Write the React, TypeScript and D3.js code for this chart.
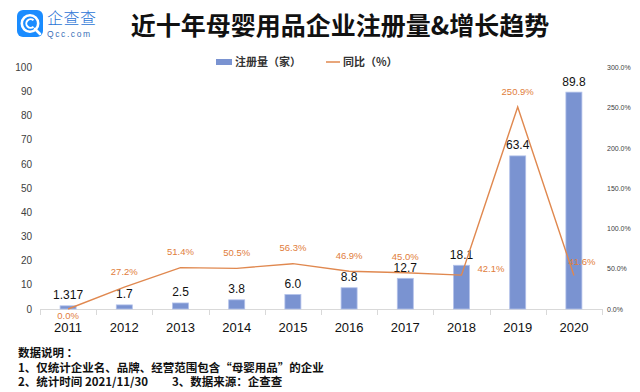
import * as d3 from 'd3'
import { useEffect, useRef } from 'react'

const years = ['2011', '2012', '2013', '2014', '2015', '2016', '2017', '2018', '2019', '2020']
const regCount = [1.317, 1.7, 2.5, 3.8, 6.0, 8.8, 12.7, 18.1, 63.4, 89.8]
const regLabels = ['1.317', '1.7', '2.5', '3.8', '6.0', '8.8', '12.7', '18.1', '63.4', '89.8']
const yoyRate = [0.0, 27.2, 51.4, 50.5, 56.3, 46.9, 45.0, 42.1, 250.9, 41.6]
const yoyPlace = ['below', 'above', 'above', 'above', 'above', 'above', 'above', 'right', 'above', 'aboveRight']
const leftTicks = [0, 10, 20, 30, 40, 50, 60, 70, 80, 90, 100]
const rightTicks = [0, 50, 100, 150, 200, 250, 300]
const notes = [
  '数据说明 ：',
  '1、仅统计企业名、品牌、经营范围包含“母婴用品”的企业',
  '2、统计时间 2021/11/30',
  '3、数据来源：企查查'
]

const W = 640
const H = 392
const CJK = '"Noto Sans CJK SC", sans-serif'
const NUM = '"Liberation Sans", Arial, sans-serif'
const BAR = '#7a93d1'
const LINE = '#e0884f'
const LABEL = '#df7d3b'

const App = () => {
  const ref = useRef<SVGSVGElement>(null)

  useEffect(() => {
    if (!ref.current) return
    const svg = d3.select(ref.current)
    svg.selectAll('*').remove()

    const plotLeft = 40
    const plotRight = 602
    const plotTop = 67.5
    const plotBottom = 309

    const x = d3.scaleBand().domain(years).range([plotLeft, plotRight]).padding(0)
    const yLeft = d3.scaleLinear().domain([0, 100]).range([plotBottom, plotTop])
    const yRight = d3.scaleLinear().domain([0, 300]).range([plotBottom, plotTop])
    const barW = x.bandwidth() * 0.285
    const cx = (d: string) => (x(d) || 0) + x.bandwidth() / 2

    // logo
    const logo = svg.append('g')
    logo.append('rect')
      .attr('x', 17).attr('y', 10).attr('width', 26).attr('height', 27)
      .attr('rx', 6).attr('fill', '#1a8cff')
    logo.append('circle')
      .attr('cx', 30).attr('cy', 23.5).attr('r', 8.2)
      .attr('fill', 'none').attr('stroke', '#fff').attr('stroke-width', 2.6)
    logo.append('path')
      .attr('d', 'M33.5,20.3 A4.3,4.3 0 1 0 33.5,26.7')
      .attr('fill', 'none').attr('stroke', '#fff').attr('stroke-width', 2)
    logo.append('path')
      .attr('d', 'M35,29 L40,34')
      .attr('stroke', '#fff').attr('stroke-width', 2.6).attr('stroke-linecap', 'round')
    logo.append('text')
      .attr('x', 47).attr('y', 23.5)
      .style('font-family', CJK).style('font-size', '16px').style('font-weight', 300)
      .style('letter-spacing', '0.5px')
      .attr('fill', '#2b74d6').text('企查查')
    logo.append('text')
      .attr('x', 47).attr('y', 37)
      .style('font-family', NUM).style('font-size', '8.5px')
      .style('letter-spacing', '1.6px')
      .attr('fill', '#3a6fb8').text('Qcc.com')

    // title
    svg.append('text')
      .attr('x', 340).attr('y', 35)
      .attr('text-anchor', 'middle')
      .style('font-family', CJK).style('font-size', '25px').style('font-weight', 'bold')
      .attr('fill', '#111').text('近十年母婴用品企业注册量&增长趋势')

    // legend
    const legend = svg.append('g')
    legend.append('rect')
      .attr('x', 216).attr('y', 59).attr('width', 16).attr('height', 6).attr('fill', BAR)
    legend.append('text')
      .attr('x', 235).attr('y', 66)
      .style('font-family', CJK).style('font-size', '11px').style('font-weight', 'bold')
      .attr('fill', '#333').text('注册量（家）')
    legend.append('line')
      .attr('x1', 326).attr('x2', 340).attr('y1', 62).attr('y2', 62)
      .attr('stroke', LINE).attr('stroke-width', 1.5)
    legend.append('text')
      .attr('x', 343).attr('y', 66)
      .style('font-family', CJK).style('font-size', '11px').style('font-weight', 'bold')
      .attr('fill', '#333').text('同比（%）')

    // left axis labels
    svg.append('g').selectAll('text')
      .data(leftTicks).enter().append('text')
      .attr('x', 32).attr('y', d => yLeft(d) + 3.5)
      .attr('text-anchor', 'end')
      .style('font-family', NUM).style('font-size', '10px')
      .attr('fill', '#404040').text(d => d)

    // right axis labels
    svg.append('g').selectAll('text')
      .data(rightTicks).enter().append('text')
      .attr('x', 607).attr('y', d => yRight(d) + 2.5)
      .style('font-family', NUM).style('font-size', '7px')
      .attr('fill', '#404040').text(d => `${d.toFixed(1)}%`)

    // x axis
    const xAxis = svg.append('g')
    xAxis.append('line')
      .attr('x1', plotLeft).attr('x2', plotRight)
      .attr('y1', plotBottom + 0.5).attr('y2', plotBottom + 0.5)
      .attr('stroke', '#d9d9d9')
    xAxis.selectAll('.tick')
      .data([...years.map(d => x(d) || 0), plotRight]).enter().append('line')
      .attr('x1', d => Math.round(d) + 0.5).attr('x2', d => Math.round(d) + 0.5)
      .attr('y1', plotBottom).attr('y2', plotBottom + 6)
      .attr('stroke', '#d9d9d9')
    xAxis.selectAll('text')
      .data(years).enter().append('text')
      .attr('x', d => cx(d)).attr('y', 332)
      .attr('text-anchor', 'middle')
      .style('font-family', NUM).style('font-size', '13px')
      .attr('fill', '#111').text(d => d)

    // bars
    svg.append('g').selectAll('rect')
      .data(regCount).enter().append('rect')
      .attr('x', (d, i) => cx(years[i]) - barW / 2)
      .attr('y', d => yLeft(d))
      .attr('width', barW)
      .attr('height', d => plotBottom - yLeft(d))
      .attr('fill', BAR)
      .attr('stroke', '#b3c2ea').attr('stroke-width', 0.8)

    svg.append('g').selectAll('text')
      .data(regCount).enter().append('text')
      .attr('x', (d, i) => cx(years[i]))
      .attr('y', d => yLeft(d) - 6.5)
      .attr('text-anchor', 'middle')
      .style('font-family', NUM).style('font-size', '12px')
      .attr('fill', '#111').text((d, i) => regLabels[i])

    // yoy line
    const line = d3.line<number>()
      .x((d, i) => cx(years[i]))
      .y(d => yRight(d))
    svg.append('path')
      .datum(yoyRate)
      .attr('fill', 'none')
      .attr('stroke', LINE)
      .attr('stroke-width', 1.4)
      .attr('d', line)

    svg.append('g').selectAll('text')
      .data(yoyRate).enter().append('text')
      .attr('x', (d, i) => {
        const p = yoyPlace[i]
        if (p === 'right') return cx(years[i]) + 16
        if (p === 'aboveRight') return cx(years[i]) + 8
        return cx(years[i])
      })
      .attr('y', (d, i) => {
        const p = yoyPlace[i]
        const py = yRight(d)
        if (p === 'below') return py + 10
        if (p === 'right') return py - 3
        if (p === 'aboveRight') return py - 10.5
        return py - 12.5
      })
      .attr('text-anchor', (d, i) => (yoyPlace[i] === 'right' ? 'start' : 'middle'))
      .style('font-family', NUM).style('font-size', '9.5px')
      .attr('fill', LABEL).text(d => `${d.toFixed(1)}%`)

    // notes
    const noteY = [357, 371.5, 386, 386]
    const noteX = [18, 18, 18, 172]
    svg.append('g').selectAll('text')
      .data(notes).enter().append('text')
      .attr('x', (d, i) => noteX[i]).attr('y', (d, i) => noteY[i])
      .style('font-family', CJK).style('font-size', '11.5px').style('font-weight', 'bold')
      .attr('fill', '#111').text(d => d)
  }, [])

  return (
    <svg
      ref={ref}
      width={W}
      height={H}
      viewBox={`0 0 ${W} ${H}`}
      style={{ position: 'absolute', left: 0, top: 0, background: '#fff' }}
    />
  )
}

export default App
